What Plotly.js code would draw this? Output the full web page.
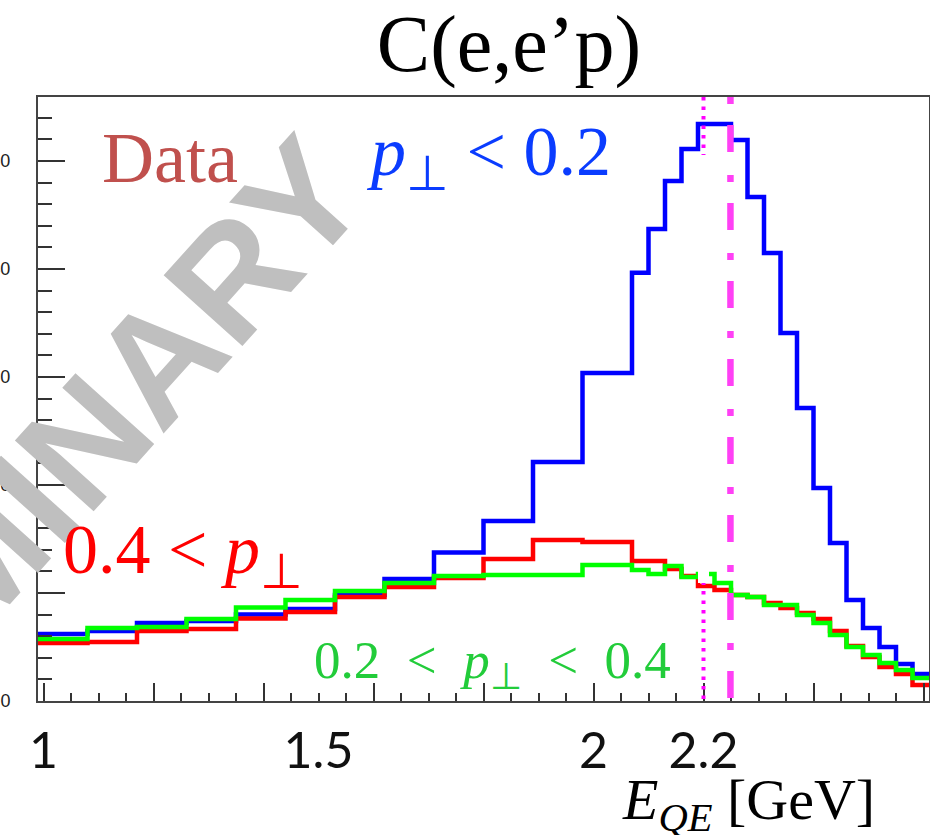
<!DOCTYPE html>
<html>
<head>
<meta charset="utf-8">
<script src="https://cdn.plot.ly/plotly-3.0.1.min.js"></script>
<style>
html,body{margin:0;padding:0;background:#fff;}
#plot{width:930px;height:835px;}
</style>
</head>
<body>
<div id="plot"></div>
<script>
// ---- data ----
const binEdges = [0.99, 1.08, 1.17, 1.26, 1.35, 1.44, 1.53, 1.62, 1.71, 1.80, 1.89, 1.98, 2.07,
  2.10, 2.13, 2.16, 2.19, 2.22, 2.25, 2.28, 2.31, 2.34, 2.37, 2.40, 2.43, 2.46, 2.49, 2.52, 2.55, 2.58, 2.61];
const bluePerpLow = [6.20, 6.48, 7.22, 7.41, 8.01, 8.52, 9.81, 11.30, 13.75, 16.67, 22.13, 30.37,
  39.66, 43.70, 48.15, 51.11, 53.43, 53.43, 51.94, 46.67, 41.48, 34.07, 27.13, 19.72, 14.63, 9.35, 6.76, 5.00, 3.43, 2.50];
const redPerpHigh = [5.37, 5.46, 6.48, 6.67, 7.64, 8.24, 9.63, 10.56, 11.39, 13.15, 14.91, 14.72,
  12.96, 12.96, 12.22, 11.57, 10.65, 10.28, 9.81, 9.63, 9.07, 8.61, 8.15, 7.59, 6.48, 5.09, 4.07, 3.15, 2.50, 1.48];
const greenPerpMid = [5.74, 6.76, 6.85, 7.59, 8.66, 9.35, 10.19, 10.93, 11.57, 11.67, 11.67, 12.59,
  12.13, 11.76, 12.50, 11.48, 11.76, 10.93, 9.81, 9.63, 8.89, 8.89, 7.96, 7.22, 6.11, 5.00, 4.26, 3.52, 2.87, 2.13];
const xLabelVals = [1, 1.5, 2, 2.2];
const xLabelText = ['1', '1.5', '2', '2.2'];
const yTickVals = [0, 10, 20, 30, 40, 50];
const yTickText = ['0', '10', '20', '30', '40', '50'];
const markerE = [2.2, 2.249];   // dotted, dash-dot lines
const xRange = [0.99, 2.61];
const yRange = [0, 55.93];

// ---- layout helpers (pixel -> paper) ----
const L = 38, T = 97, W = 891, H = 604;
const px = x => (x - L) / W;
const py = y => (T + H - y) / H;

function histTrace(vals, color) {
  return {
    type: 'scatter', mode: 'lines',
    x: binEdges, y: vals.concat([vals[vals.length - 1]]),
    line: {shape: 'hv', color: color, width: 4.5},
    hoverinfo: 'skip', showlegend: false, cliponaxis: true
  };
}

const traces = [
  histTrace(bluePerpLow, '#0000ff'),
  histTrace(redPerpHigh, '#ff0000'),
  histTrace(greenPerpMid, '#00ff00'),
  // carrier so the label axis (x2) is drawn
  {type: 'scatter', mode: 'lines', x: xRange, y: [0, 0], xaxis: 'x2', yaxis: 'y',
   line: {width: 0, color: 'rgba(0,0,0,0)'}, hoverinfo: 'skip', showlegend: false}
];

const serif = 'Liberation Serif, Times New Roman, serif';
const annotations = [
  {text: '<b>PRELIMINARY</b>', x: px(-18), y: py(556), xref: 'paper', yref: 'paper', showarrow: false,
   xanchor: 'center', yanchor: 'middle', textangle: -48,
   font: {family: 'Liberation Sans, Arial, sans-serif', size: 154, color: '#bfbfbf'}},
  {text: 'Data', x: px(170), y: py(158), xref: 'paper', yref: 'paper', showarrow: false,
   xanchor: 'center', yanchor: 'middle', font: {family: serif, size: 72, color: '#c0504d'}},
  {text: '<i>p</i><sub>⊥</sub> < 0.2', x: px(488), y: py(157), xref: 'paper', yref: 'paper', showarrow: false,
   xanchor: 'center', yanchor: 'middle', font: {family: serif, size: 70, color: '#0a3cff'}},
  {text: '0.4 < <i>p</i><sub>⊥</sub>', x: px(183), y: py(555), xref: 'paper', yref: 'paper', showarrow: false,
   xanchor: 'center', yanchor: 'middle', font: {family: serif, size: 70, color: '#ff0000'}},
  {text: '0.2  <  <i>p</i><sub>⊥</sub>  <  0.4', x: px(492), y: py(664), xref: 'paper', yref: 'paper', showarrow: false,
   xanchor: 'center', yanchor: 'middle', font: {family: serif, size: 53, color: '#22cc3a'}},
  {text: '<i>E</i><sub><i>QE</i></sub> [GeV]', x: px(748), y: py(803), xref: 'paper', yref: 'paper', showarrow: false,
   xanchor: 'center', yanchor: 'middle', font: {family: serif, size: 58, color: '#000'}}
];

const shapes = [
  {type: 'line', xref: 'x', yref: 'paper', x0: markerE[0], x1: markerE[0], y0: 1, y1: 0,
   line: {color: '#ff00ff', width: 4, dash: '3.5px,6px'}, layer: 'above'},
  {type: 'rect', xref: 'x', yref: 'paper', x0: 2.19, x1: 2.21, y0: py(583), y1: py(155),
   fillcolor: '#ffffff', line: {width: 0}, layer: 'above'},
  {type: 'line', xref: 'x', yref: 'paper', x0: markerE[1], x1: markerE[1], y0: 1, y1: 0,
   line: {color: '#ff40f5', width: 6.5, dash: '7px,21px,27px,23px'}, layer: 'above'}
];

const layout = {
  width: 930, height: 835,
  margin: {l: 38, r: 1, t: 97, b: 134, pad: 0},
  paper_bgcolor: '#ffffff', plot_bgcolor: '#ffffff',
  showlegend: false,
  title: {text: 'C(e,e’p)', font: {family: serif, size: 80, color: '#000'},
          x: 509 / 930, xref: 'container', xanchor: 'center',
          y: 1 - 43 / 835, yref: 'container', yanchor: 'middle'},
  xaxis: {
    range: xRange, showgrid: false, zeroline: false,
    showline: true, linecolor: '#444', linewidth: 2, mirror: true,
    ticks: 'inside', tick0: 1, dtick: 0.2, ticklen: 18, tickwidth: 2, tickcolor: '#333',
    minor: {ticks: 'inside', dtick: 0.05, tick0: 1, ticklen: 8, tickwidth: 2, tickcolor: '#333', showgrid: false},
    showticklabels: false
  },
  xaxis2: {
    overlaying: 'x', anchor: 'y', side: 'bottom', range: xRange,
    showgrid: false, zeroline: false, showline: false, ticks: '',
    tickmode: 'array', tickvals: xLabelVals, ticktext: xLabelText,
    tickfont: {family: 'Lato, Open Sans, sans-serif', size: 50, color: '#111'},
    ticklabelstandoff: 16
  },
  yaxis: {
    range: yRange, showgrid: false, zeroline: false,
    showline: true, linecolor: '#444', linewidth: 2, mirror: true,
    ticks: 'inside', tickmode: 'array', tickvals: yTickVals, ticktext: yTickText,
    ticklen: 27, tickwidth: 2, tickcolor: '#333',
    minor: {ticks: 'inside', dtick: 2, tick0: 0, ticklen: 14, tickwidth: 2, tickcolor: '#333', showgrid: false},
    tickfont: {family: 'Liberation Sans, Arial, sans-serif', size: 18, color: '#222'},
    ticklabelstandoff: 22
  },
  annotations: annotations,
  shapes: shapes
};

Plotly.newPlot('plot', traces, layout, {staticPlot: true, displayModeBar: false});
</script>
</body>
</html>
